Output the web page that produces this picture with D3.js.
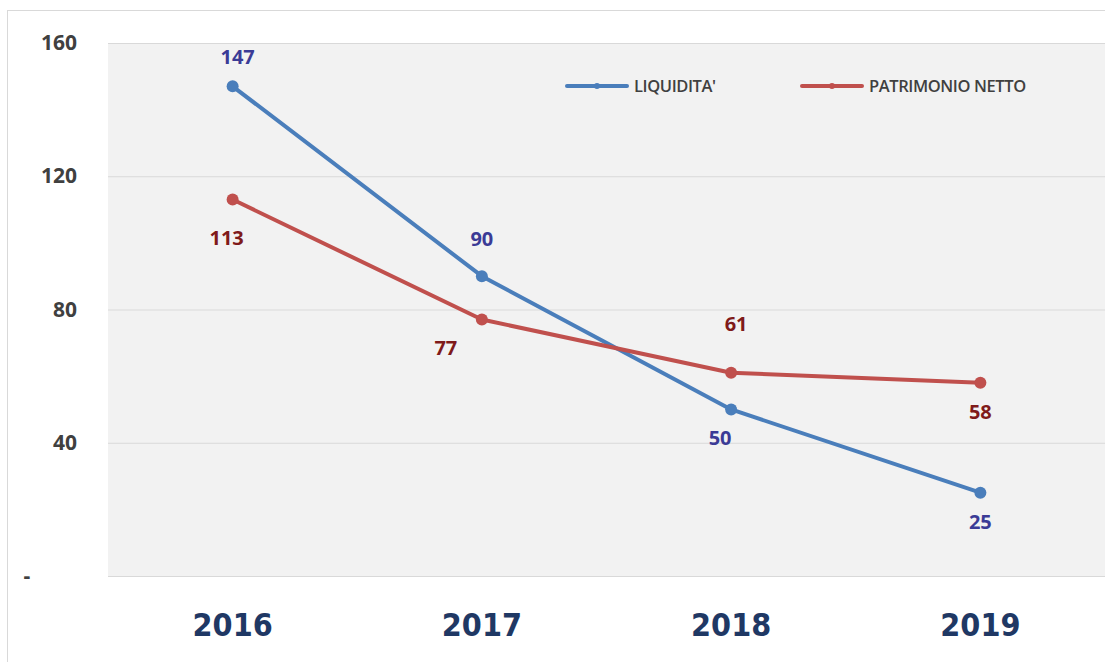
<!DOCTYPE html>
<html>
<head>
<meta charset="utf-8">
<script src="https://cdn.jsdelivr.net/npm/d3@7"></script>
<style>
  body { margin: 0; background: #fff; }
</style>
</head>
<body>
<svg id="chart" width="1105" height="662"></svg>
<script>
// data
const years = ['2016', '2017', '2018', '2019']
const liquidita = [147, 90, 50, 25]
const patrimonio = [113, 77, 61, 58]
const yTicks = [0, 40, 80, 120, 160]
const seriesNames = ["LIQUIDITA'", 'PATRIMONIO NETTO']

const svg = d3.select('#chart')
const plot = { left: 108, right: 1105, top: 43, bottom: 576 }

const x = d3.scaleBand().domain(years).range([plot.left, plot.right])
const y = d3.scaleLinear().domain([0, 160]).range([plot.bottom, plot.top])

// outer frame
svg.append('rect').attr('x', 7.5).attr('y', 10.5).attr('width', 1110).attr('height', 670)
    .style('fill', '#fff').style('stroke', '#d9d9d9')

// plot background
svg.append('rect').attr('x', plot.left).attr('y', plot.top)
    .attr('width', plot.right - plot.left).attr('height', plot.bottom - plot.top)
    .style('fill', '#f2f2f2')

// gridlines
svg.selectAll('.grid').data(yTicks).enter().append('line')
    .attr('x1', plot.left).attr('x2', plot.right)
    .attr('y1', d => y(d) + 0.5).attr('y2', d => y(d) + 0.5)
    .style('stroke', '#d9d9d9').style('stroke-width', 1.2)

// y labels
svg.selectAll('.ylab').data(yTicks).enter().append('text')
    .attr('x', d => d === 0 ? 27 : 77).attr('y', d => y(d) + 7)
    .attr('text-anchor', d => d === 0 ? 'middle' : 'end')
    .style('font-family', 'Open Sans, sans-serif').style('font-weight', 'bold')
    .style('font-size', '21px').style('fill', '#404040')
    .text(d => d === 0 ? '-' : d)

// x labels
svg.selectAll('.xlab').data(years).enter().append('text')
    .attr('x', d => x(d) + x.bandwidth() / 2).attr('y', 636)
    .attr('text-anchor', 'middle')
    .style('font-family', '"Liberation Sans Narrow", "DejaVu Sans Condensed", sans-serif')
    .style('font-weight', 'bold').style('font-size', '32px').style('fill', '#1f3864')
    .text(d => d)

const cx = d => x(d) + x.bandwidth() / 2
const line = d3.line().x((v, i) => cx(years[i])).y(v => y(v))

const series = [
    { name: seriesNames[0], values: liquidita, color: '#4a7ebb', labelColor: '#3b3b96',
      dx: [5, 0, -11, 0], dy: [-22, -30, 36, 36] },
    { name: seriesNames[1], values: patrimonio, color: '#c0504d', labelColor: '#7f1a1a',
      dx: [-6, -36, 5, 0], dy: [45, 36, -42, 36] }
]

series.forEach(s => {
    svg.append('path').attr('d', line(s.values))
        .style('fill', 'none').style('stroke', s.color).style('stroke-width', 4)
        .style('stroke-linejoin', 'round')
    svg.selectAll(null).data(s.values).enter().append('circle')
        .attr('cx', (v, i) => cx(years[i])).attr('cy', v => y(v)).attr('r', 6)
        .style('fill', s.color)
    svg.selectAll(null).data(s.values).enter().append('text')
        .attr('x', (v, i) => cx(years[i]) + s.dx[i]).attr('y', (v, i) => y(v) + s.dy[i])
        .attr('text-anchor', 'middle')
        .style('font-family', 'Open Sans, sans-serif').style('font-weight', 'bold')
        .style('font-size', '20px').style('fill', s.labelColor)
        .text(v => v)
})

// legend
const legendX = [567, 802]
series.forEach((s, i) => {
    const g = svg.append('g').attr('transform', `translate(${legendX[i]},86)`)
    g.append('line').attr('x1', 0).attr('x2', 60).attr('y1', 0).attr('y2', 0)
        .style('stroke', s.color).style('stroke-width', 4).style('stroke-linecap', 'round')
    g.append('circle').attr('cx', 30).attr('cy', 0).attr('r', 3).style('fill', s.color)
    g.append('text').attr('x', 67).attr('y', 6)
        .style('font-family', 'Open Sans, sans-serif').style('font-weight', '600')
        .style('font-size', '16.5px').style('fill', '#404040').style('letter-spacing', '-0.4px')
        .text(s.name)
})
</script>
</body>
</html>
